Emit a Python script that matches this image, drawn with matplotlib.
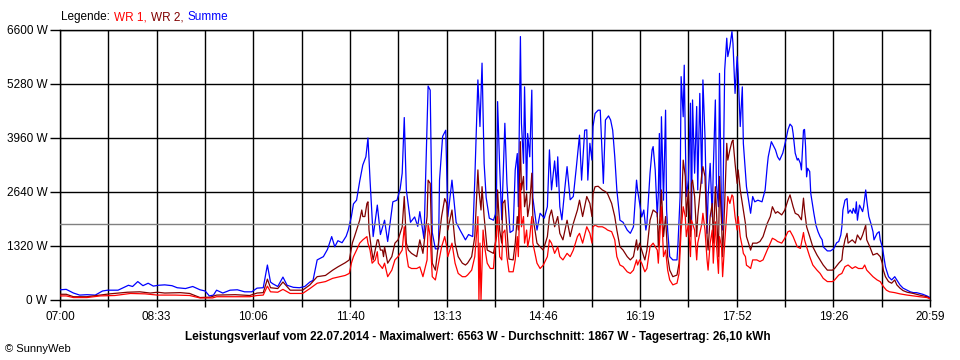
import numpy as np
import matplotlib
matplotlib.use("Agg")
import matplotlib.pyplot as plt

plt.rcParams['font.family'] = ['Liberation Sans', 'DejaVu Sans']

# Minutes after 07:00 and power in W
summe_min = [0, 6, 13, 19, 26, 34, 41, 46, 56, 66, 70, 75, 80, 85, 90, 95, 101, 108, 113, 121,
             128, 135, 140, 144, 148, 151, 157, 164, 171, 178, 185, 190, 196, 200, 203, 205, 210, 215, 219, 225,
             231, 236, 241, 244, 248, 254, 258, 262, 265, 268, 272, 276, 278, 281, 283, 286, 289, 292, 295, 297,
             299, 302, 306, 309, 313, 316, 321, 325, 328, 330, 332, 334, 338, 342, 345, 347, 351, 355, 357, 359,
             362, 365, 366, 369, 372, 374, 378, 382, 386, 391, 394, 398, 400, 403, 405, 407, 409, 411, 414, 418,
             420, 421, 422, 424, 426, 429, 431, 434, 437, 439, 441, 442, 444, 445, 447, 448, 450, 451, 453, 455,
             456, 460, 463, 467, 470, 472, 474, 477, 479, 480, 482, 484, 487, 489, 492, 495, 498, 501, 503, 506,
             508, 509, 511, 513, 514, 516, 519, 521, 524, 526, 529, 531, 533, 535, 537, 540, 543, 547, 550, 553,
             556, 557, 561, 563, 565, 566, 569, 571, 572, 574, 576, 577, 578, 579, 580, 582, 584, 585, 586, 588,
             591, 595, 596, 598, 599, 601, 602, 603, 604, 606, 608, 609, 610, 612, 614, 615, 617, 619, 620, 622,
             624, 625, 627, 629, 630, 632, 633, 635, 636, 638, 639, 641, 643, 644, 646, 648, 649, 651, 653, 654,
             656, 658, 659, 661, 662, 664, 666, 668, 670, 673, 677, 680, 682, 683, 686, 690, 692, 694, 697, 700,
             702, 704, 706, 707, 709, 711, 712, 714, 715, 717, 718, 719, 720, 721, 723, 724, 726, 727, 729, 731,
             733, 735, 736, 740, 743, 746, 749, 751, 753, 754, 755, 757, 759, 760, 762, 764, 765, 767, 768, 769,
             771, 774, 775, 776, 777, 778, 780, 782, 784, 785, 788, 790, 791, 793, 794, 796, 797, 799, 802, 805,
             807, 810, 813, 817, 820, 823, 826, 829, 832, 836, 839]
summe_w = [250, 260, 170, 120, 130, 120, 220, 240, 240, 360, 330, 450, 350, 410, 340, 360, 370, 350, 300, 280,
           330, 250, 220, 100, 120, 240, 170, 240, 250, 200, 200, 290, 300, 855, 440, 400, 330, 560, 360, 310,
           300, 330, 440, 480, 980, 1060, 1240, 1550, 1300, 1450, 1400, 1560, 1710, 2040, 2350, 2440, 2900, 3300, 3500, 3960,
           2930, 1550, 2320, 1600, 1950, 1430, 2400, 2440, 2710, 3100, 4460, 2690, 1900, 2030, 1800, 2160, 1500, 5230, 5130, 1650,
           1250, 1250, 2930, 4000, 4150, 2040, 2930, 1900, 1700, 1470, 1600, 1550, 2930, 5380, 4240, 5790, 3340, 2500, 2000, 1950,
           2100, 2690, 4850, 3250, 1960, 4320, 2850, 1650, 1700, 3180, 3580, 2280, 6440, 4320, 3340, 5210, 2690, 4070, 3500, 5130,
           2500, 1710, 2120, 2000, 2280, 3670, 2690, 3400, 2770, 3500, 2280, 1960, 2770, 3260, 2450, 2530, 3260, 4030, 2930, 4150,
           4160, 2930, 3830, 3420, 4240, 4560, 4640, 4640, 2850, 4400, 4500, 4400, 4150, 3500, 2690, 1950, 1900, 1710, 1630, 1790,
           2930, 2690, 2030, 2200, 1710, 1870, 3100, 3670, 3750, 3180, 2030, 2600, 4070, 2030, 4480, 2440, 4640, 2200, 1710, 1060,
           980, 980, 1390, 2530, 5460, 4480, 5740, 3990, 2530, 2930, 4810, 1710, 4890, 3100, 4730, 2690, 5050, 2850, 5380, 4000,
           1630, 2530, 3340, 2030, 3180, 4890, 2850, 2280, 5540, 2030, 1710, 5620, 6400, 5950, 6190, 6563, 6270, 5050, 5950, 5540,
           4240, 5210, 3830, 3100, 2770, 2440, 2120, 2530, 2400, 2440, 2400, 2690, 3260, 3500, 3870, 3670, 3500, 3420, 3590, 3910,
           4160, 4300, 4240, 4070, 3590, 3420, 3460, 3340, 3180, 4150, 4170, 3750, 3010, 3220, 3140, 2610, 2280, 2120, 1830, 1670,
           1550, 1470, 1300, 1200, 1200, 1250, 1400, 1430, 1590, 1790, 2200, 2440, 2480, 2120, 2200, 2120, 2240, 2120, 2400, 1950,
           2320, 2160, 2280, 2480, 2690, 2440, 2040, 1870, 1670, 1470, 1630, 1670, 1470, 1300, 1140, 815, 730, 570, 490, 570,
           490, 370, 290, 240, 200, 180, 180, 160, 140, 100, 60]

wr2_min = [0, 6, 13, 26, 39, 48, 65, 77, 87, 94, 101, 116, 125, 135, 145, 151, 169, 183, 190, 196,
           200, 203, 210, 215, 222, 234, 241, 248, 256, 263, 268, 275, 279, 282, 284, 286, 289, 291, 292, 294,
           296, 297, 298, 300, 302, 304, 306, 307, 309, 311, 312, 313, 316, 320, 323, 326, 330, 332, 334, 336,
           339, 344, 347, 350, 354, 355, 357, 359, 362, 365, 368, 371, 373, 374, 378, 381, 384, 388, 391, 393,
           397, 400, 403, 404, 406, 407, 409, 412, 415, 418, 421, 422, 424, 426, 427, 429, 431, 433, 437, 439,
           441, 442, 444, 445, 447, 448, 450, 451, 453, 455, 456, 460, 463, 466, 470, 472, 474, 477, 480, 482,
           485, 489, 492, 495, 499, 501, 504, 508, 511, 513, 514, 516, 519, 523, 526, 528, 532, 535, 537, 540,
           543, 547, 550, 553, 556, 557, 559, 561, 564, 566, 569, 572, 576, 577, 580, 582, 584, 586, 588, 591,
           595, 597, 599, 601, 603, 604, 606, 608, 609, 610, 612, 614, 615, 619, 620, 622, 624, 625, 627, 629,
           630, 632, 633, 635, 636, 638, 639, 641, 643, 644, 646, 648, 649, 651, 653, 654, 656, 658, 659, 661,
           662, 664, 666, 668, 672, 675, 678, 682, 685, 687, 690, 692, 696, 699, 702, 704, 707, 709, 712, 715,
           717, 718, 720, 723, 726, 730, 733, 736, 740, 745, 747, 751, 754, 755, 757, 759, 760, 764, 767, 769,
           772, 774, 777, 778, 781, 784, 788, 791, 793, 794, 796, 799, 802, 805, 807, 810, 813, 817, 823, 829,
           836, 839]
wr2_w = [140, 140, 80, 80, 120, 150, 190, 200, 170, 190, 170, 180, 160, 60, 70, 120, 130, 110, 170, 180,
         510, 300, 280, 440, 240, 240, 370, 570, 600, 730, 810, 910, 980, 1400, 1550, 1710, 1950, 2200, 2040, 2040,
         2360, 2400, 1710, 1300, 980, 1220, 1470, 1470, 1220, 1220, 1060, 1300, 900, 1060, 1390, 1470, 1790, 2530, 1390, 1220,
         1140, 1060, 1470, 1140, 2040, 2930, 2850, 900, 730, 1390, 2040, 2480, 2360, 1710, 2200, 1390, 1060, 900, 855, 900,
         1060, 1550, 3180, 2690, 2200, 2770, 2040, 1220, 1180, 1140, 1550, 2690, 1710, 1390, 2360, 2440, 1710, 1000, 980, 1390,
         2040, 1710, 3870, 2690, 3020, 2280, 2600, 2040, 2360, 3100, 2040, 1390, 1300, 1220, 1550, 2040, 2200, 1790, 2040, 1630,
         1470, 1950, 1550, 1870, 2200, 2440, 2040, 2530, 2360, 2040, 2600, 2770, 2780, 2690, 2650, 2600, 2360, 2040, 1710, 1300,
         1220, 1060, 980, 1060, 1470, 1220, 1390, 1220, 980, 1220, 1950, 2200, 2120, 1300, 2690, 1550, 2040, 1060, 730, 570,
         610, 900, 2040, 3420, 3020, 2040, 2690, 1550, 2850, 2930, 2530, 1550, 2040, 3100, 3260, 3020, 1550, 1220, 2040, 2360,
         1390, 2770, 2200, 1060, 3020, 1870, 1060, 2360, 3830, 3420, 3670, 3870, 3910, 3340, 2850, 3180, 2690, 2360, 2200, 1870,
         1550, 1390, 1220, 1390, 1390, 1430, 1550, 1870, 2040, 2280, 2120, 2160, 2080, 2200, 2440, 2570, 2280, 2120, 2080, 1960,
         2490, 2200, 1790, 1550, 1300, 1100, 980, 855, 730, 730, 770, 900, 980, 1220, 1470, 1630, 1390, 1470, 1390, 1590,
         1470, 1590, 1830, 1470, 1300, 1100, 1140, 1060, 900, 730, 570, 450, 410, 490, 370, 290, 230, 190, 160, 120,
         80, 40]

wr1_min = [0, 6, 13, 26, 39, 53, 68, 82, 94, 111, 125, 135, 147, 151, 183, 190, 196, 200, 203, 210,
           215, 222, 234, 241, 248, 256, 263, 270, 275, 279, 281, 283, 286, 289, 292, 296, 297, 299, 301, 304,
           306, 307, 311, 313, 316, 320, 323, 326, 330, 332, 334, 336, 339, 344, 347, 350, 354, 355, 357, 359,
           362, 365, 368, 371, 373, 374, 378, 381, 384, 388, 391, 393, 397, 400, 403, 404, 405, 406, 408, 410,
           412, 415, 418, 421, 422, 424, 426, 427, 429, 431, 433, 437, 439, 441, 442, 444, 445, 447, 448, 450,
           451, 453, 455, 456, 460, 463, 466, 470, 472, 474, 477, 480, 482, 485, 489, 492, 495, 499, 501, 504,
           508, 511, 513, 514, 516, 519, 523, 526, 528, 532, 535, 537, 540, 543, 547, 550, 553, 556, 557, 559,
           561, 564, 566, 569, 572, 576, 577, 580, 582, 584, 586, 588, 591, 595, 597, 599, 601, 603, 604, 606,
           608, 609, 610, 612, 614, 615, 619, 620, 622, 624, 625, 627, 629, 630, 632, 633, 635, 636, 638, 639,
           641, 643, 644, 646, 648, 649, 651, 653, 654, 656, 658, 659, 661, 662, 664, 666, 668, 672, 675, 678,
           682, 685, 687, 690, 692, 696, 699, 702, 704, 707, 711, 714, 717, 718, 720, 723, 726, 730, 733, 736,
           740, 745, 747, 751, 754, 757, 760, 764, 767, 770, 774, 776, 778, 781, 784, 788, 791, 794, 797, 800,
           805, 810, 817, 823, 829, 836, 839]
wr1_w = [100, 100, 60, 60, 100, 110, 160, 150, 120, 120, 110, 50, 50, 80, 80, 110, 120, 340, 200, 190,
         260, 160, 160, 280, 410, 450, 530, 570, 600, 650, 900, 1060, 1220, 1390, 1470, 1550, 1390, 1220, 900, 980,
         1180, 900, 770, 900, 570, 730, 980, 1060, 1220, 1790, 1140, 810, 770, 770, 810, 570, 980, 1870, 1550, 570,
         490, 900, 1300, 1550, 1300, 1060, 1390, 900, 650, 570, 570, 610, 730, 1060, 2040, 0, 1390, 0, 1710, 1220,
         900, 770, 770, 1710, 2040, 1060, 980, 1630, 1710, 1060, 690, 690, 980, 1550, 1060, 2850, 1790, 2040, 1390, 1710,
         1300, 1550, 2040, 1390, 900, 770, 850, 1060, 1470, 1390, 1140, 1300, 1060, 980, 1140, 1060, 1220, 1550, 1630, 1390,
         1790, 1630, 1390, 1790, 1830, 1790, 1790, 1750, 1710, 1670, 1470, 1060, 855, 815, 690, 650, 730, 980, 855, 980,
         900, 690, 770, 1300, 1390, 1220, 900, 2280, 1060, 1220, 730, 490, 370, 410, 650, 1710, 2280, 2040, 1550, 1870,
         1060, 1950, 1870, 1710, 980, 1390, 1870, 2120, 1710, 980, 730, 1390, 1710, 900, 1910, 1390, 650, 1550, 1300, 570,
         1390, 2120, 2530, 2360, 2570, 2530, 2040, 1710, 2040, 1550, 1300, 1140, 1060, 850, 815, 770, 980, 980, 940, 980,
         1220, 1390, 1510, 1470, 1430, 1390, 1510, 1670, 1690, 1550, 1300, 1260, 1650, 1470, 1300, 1060, 855, 730, 650, 530,
         450, 450, 490, 610, 650, 815, 855, 770, 815, 770, 770, 855, 730, 650, 570, 490, 450, 330, 240, 200,
         180, 150, 120, 100, 80, 60, 30]

durchschnitt = 1867
y_ticks = [0, 1320, 2640, 3960, 5280, 6600]
x_labels = ['07:00', '08:33', '10:06', '11:40', '13:13', '14:46', '16:19', '17:52', '19:26', '20:59']
legend_parts = [('Legende: ', 'black'), ('WR 1, ', '#ff0000'), ('WR 2, ', '#800000'), ('Summe', '#0000ff')]
day_minutes = 839

fig = plt.figure(figsize=(9.6, 3.6), dpi=100)
ax = fig.add_axes([60 / 960, 60 / 360, 870 / 960, 270 / 360])

# average line, then the three series
ax.axhline(durchschnitt, color='#808080', lw=1, zorder=4)
ax.plot(summe_min, summe_w, color='#0000ff', lw=0.9, zorder=3)
ax.plot(wr2_min, wr2_w, color='#800000', lw=0.9, zorder=3)
ax.plot(wr1_min, wr1_w, color='#ff0000', lw=0.9, zorder=3)

ax.set_xlim(0, day_minutes)
ax.set_ylim(0, 6600)

# grid every half label step on x, every 1320 W on y
xt = np.linspace(0, day_minutes, 19)
ax.set_xticks(xt)
lab = []
for i in range(19):
    lab.append(x_labels[i // 2] if i % 2 == 0 else '')
ax.set_xticklabels(lab, fontsize=8.5)
ax.set_yticks(y_ticks)
ax.set_yticklabels([f'{v} W' for v in y_ticks], fontsize=8.5)
ax.grid(True, color='black', lw=1, zorder=1)
ax.set_axisbelow(True)
ax.tick_params(axis='y', direction='out', length=7, width=1, pad=2)
ax.tick_params(axis='x', direction='out', length=5, width=1, pad=3)
for s in ax.spines.values():
    s.set_color('black')
    s.set_linewidth(1)

# legend line at the top, pieces placed one after another
renderer = fig.canvas.get_renderer()
x_px = 61
for txt, col in legend_parts:
    t = fig.text(x_px / 960, 1 - 17 / 360, txt, fontsize=8.5, color=col, va='center')
    x_px += t.get_window_extent(renderer).width + 1

fig.text(478 / 960, 1 - 337 / 360,
         'Leistungsverlauf vom 22.07.2014 - Maximalwert: 6563 W - Durchschnitt: 1867 W - Tagesertrag: 26,10 kWh',
         fontsize=8.5, fontweight='bold', ha='center', va='center')
fig.text(5 / 960, 1 - 349 / 360, '© SunnyWeb', fontsize=8, va='center')

fig.savefig('out.png', dpi=100)
